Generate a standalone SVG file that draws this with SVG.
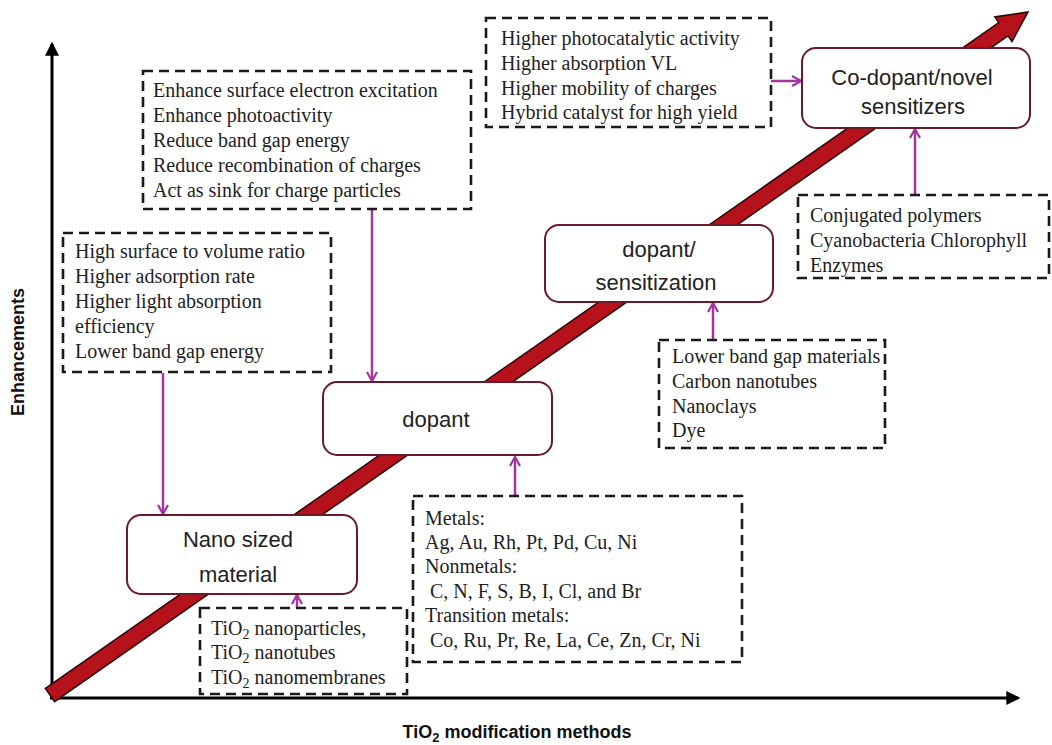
<svg xmlns="http://www.w3.org/2000/svg" width="1052" height="745" viewBox="0 0 1052 745">
<style>
.dbox{fill:#fff;stroke:#1a1a1a;stroke-width:2.6;stroke-dasharray:10 6}
.node{fill:#fff;stroke:#6b1a28;stroke-width:2}
.st{font-family:"Liberation Serif",serif;font-size:20px;fill:#1e1e1e}
.nt{font-family:"Liberation Sans",sans-serif;font-size:22px;fill:#222;text-anchor:middle}
.ax{stroke:#000;stroke-width:3;fill:none}
.con{stroke:#a2359f;stroke-width:2.5;fill:none;marker-end:url(#pa)}
.lab{font-family:"Liberation Sans",sans-serif;font-size:18px;font-weight:bold;fill:#111}
</style>
<defs>
<marker id="pa" viewBox="0 0 12 12" refX="11" refY="6" markerWidth="12" markerHeight="12" markerUnits="userSpaceOnUse" orient="auto">
<path d="M2,1 L11,6 L2,11" fill="none" stroke="#a2359f" stroke-width="2.2"/>
</marker>
<marker id="ka" viewBox="0 0 12 12" refX="10" refY="6" markerWidth="14" markerHeight="14" markerUnits="userSpaceOnUse" orient="auto">
<path d="M0,0 L12,6 L0,12 Z" fill="#000"/>
</marker>
</defs>
<rect width="1052" height="745" fill="#fff"/>
<g id="axes">
<line class="ax" x1="52" y1="699" x2="52" y2="44" marker-end="url(#ka)"/>
<line class="ax" x1="50" y1="698" x2="1018" y2="698" marker-end="url(#ka)"/>
<text class="lab" transform="translate(24,352) rotate(-90)" text-anchor="middle">Enhancements</text>
<text class="lab" x="517" y="738" text-anchor="middle">TiO<tspan font-size="13" dy="4">2</tspan><tspan dy="-4"> modification methods</tspan></text>
</g>
<g id="trend-arrow">
<polygon points="45.4,688.4 998.8,22.6 994.8,16.9 1028,12 1012,41.5 1008,35.8 54.6,701.6" fill="#b5121b" stroke="#2a0505" stroke-width="1.5" stroke-linejoin="miter"/>
</g>
<g id="connectors">
<line class="con" x1="372" y1="210" x2="372" y2="381"/>
<line class="con" x1="163" y1="373" x2="163" y2="514"/>
<line class="con" x1="297" y1="608" x2="297" y2="595"/>
<line class="con" x1="515" y1="496" x2="515" y2="457"/>
<line class="con" x1="713" y1="340" x2="713" y2="303"/>
<line class="con" x1="915" y1="195" x2="915" y2="129"/>
<line class="con" x1="771" y1="81" x2="801" y2="81"/>
</g>
<g id="box-enhance">
<rect class="dbox" x="143" y="71" width="328" height="138"/>
<text class="st" x="153" y="97">Enhance surface electron excitation</text>
<text class="st" x="153" y="122">Enhance photoactivity</text>
<text class="st" x="153" y="147">Reduce band gap energy</text>
<text class="st" x="153" y="172">Reduce recombination of charges</text>
<text class="st" x="153" y="197">Act as sink for charge particles</text>
</g>
<g id="box-highsurface">
<rect class="dbox" x="63" y="233" width="268" height="139"/>
<text class="st" x="75" y="258">High surface to volume ratio</text>
<text class="st" x="75" y="283">Higher adsorption rate</text>
<text class="st" x="75" y="308">Higher light absorption</text>
<text class="st" x="75" y="333">efficiency</text>
<text class="st" x="75" y="358">Lower band gap energy</text>
</g>
<g id="box-higher">
<rect class="dbox" x="486" y="18" width="285" height="109"/>
<text class="st" x="501" y="45">Higher photocatalytic activity</text>
<text class="st" x="501" y="70">Higher absorption  VL</text>
<text class="st" x="501" y="95">Higher mobility of charges</text>
<text class="st" x="501" y="119">Hybrid catalyst  for high yield</text>
</g>
<g id="box-conjugated">
<rect class="dbox" x="798" y="195" width="251" height="83"/>
<text class="st" x="810" y="222">Conjugated polymers</text>
<text class="st" x="810" y="247">Cyanobacteria Chlorophyll</text>
<text class="st" x="810" y="272">Enzymes</text>
</g>
<g id="box-lowerband">
<rect class="dbox" x="659" y="340" width="226" height="108"/>
<text class="st" x="672" y="363">Lower band gap materials</text>
<text class="st" x="672" y="388">Carbon nanotubes</text>
<text class="st" x="672" y="413">Nanoclays</text>
<text class="st" x="672" y="437">Dye</text>
</g>
<g id="box-metals">
<rect class="dbox" x="413" y="496" width="329" height="166"/>
<text class="st" x="425" y="525">Metals:</text>
<text class="st" x="425" y="549">Ag, Au, Rh, Pt, Pd, Cu, Ni</text>
<text class="st" x="425" y="573">Nonmetals:</text>
<text class="st" x="430" y="598">C, N, F, S, B, I, Cl, and Br</text>
<text class="st" x="425" y="622">Transition metals:</text>
<text class="st" x="430" y="647">Co, Ru, Pr, Re, La, Ce, Zn, Cr, Ni</text>
</g>
<g id="box-tio2">
<rect class="dbox" x="200" y="608" width="207" height="86"/>
<text class="st" x="211" y="635">TiO<tspan font-size="14" dy="4">2</tspan><tspan dy="-4"> nanoparticles,</tspan></text>
<text class="st" x="211" y="659">TiO<tspan font-size="14" dy="4">2</tspan><tspan dy="-4"> nanotubes</tspan></text>
<text class="st" x="211" y="684">TiO<tspan font-size="14" dy="4">2</tspan><tspan dy="-4"> nanomembranes</tspan></text>
</g>
<g id="node-nano">
<rect class="node" x="127" y="515" width="230" height="79" rx="14"/>
<text class="nt" x="238" y="547">Nano sized</text>
<text class="nt" x="238" y="582">material</text>
</g>
<g id="node-dopant">
<rect class="node" x="323" y="382" width="229" height="73" rx="14"/>
<text class="nt" x="436" y="427">dopant</text>
</g>
<g id="node-sensitization">
<rect class="node" x="545" y="225" width="228" height="77" rx="14"/>
<text class="nt" x="659" y="257">dopant/</text>
<text class="nt" x="656" y="290">sensitization</text>
</g>
<g id="node-codopant">
<rect class="node" x="802" y="48" width="228" height="80" rx="14"/>
<text class="nt" x="912" y="85">Co-dopant/novel</text>
<text class="nt" x="913" y="114">sensitizers</text>
</g>
</svg>
